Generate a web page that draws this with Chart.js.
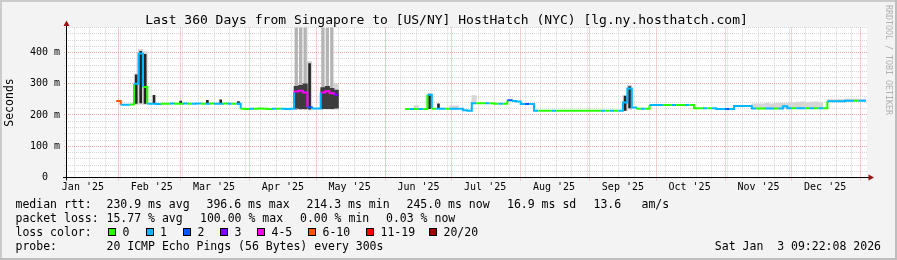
<!DOCTYPE html>
<html>
<head>
<meta charset="utf-8">
<script src="https://cdn.jsdelivr.net/npm/chart.js@4.4.1/dist/chart.umd.min.js"></script>
<style>
  html, body { margin: 0; padding: 0; background: #f3f3f3; }
  canvas { display: block; }
</style>
</head>
<body>
<canvas id="smokeping" width="897" height="260"></canvas>
<script>
// Time axis in days since 2025-01-01 (0 = Jan 1), one bucket = 2 days
const X_MIN = 7.39;
const X_MAX = 367.39;
const START_DAY = 8;
const STEP = 2;
const Y_MAX = 480;
const FIRST_SUNDAY = 4;

const TITLE = 'Last 360 Days from Singapore to [US/NY] HostHatch (NYC) [lg.ny.hosthatch.com]';

const yTicks = [0, 100, 200, 300, 400];
const monthStarts = [31, 59, 90, 120, 151, 181, 212, 243, 273, 304, 334, 365];
const monthMids = [15, 46, 74, 105, 135, 166, 196, 227, 258, 288, 319, 349];
const monthLabels = ["Jan '25", "Feb '25", "Mar '25", "Apr '25", "May '25", "Jun '25",
                     "Jul '25", "Aug '25", "Sep '25", "Oct '25", "Nov '25", "Dec '25"];

// median rtt per bucket (ms), null = no data
const median = [
  null, null, null, null, null, null, null, null, null, null,
  null, 245, 233, 233, 234, 300, 397, 290, 236, 236,
  235, 236, 236, 237, 236, 236, 237, 236, 236, 237,
  236, 236, 237, 236, 236, 237, 236, 236, 236, 220,
  219, 220, 220, 221, 220, 219, 220, 220, 220, 219,
  220, 275, 278, 272, 225, 221, 221, 272, 276, 270,
  265, null, null, null, null, null, null, null, null, null,
  null, null, null, null, null, null, 219, 219, 219, 219,
  219, 265, 220, 220, 220, 220, 220, 220, 220, 215,
  214, 238, 238, 238, 238, 238, 236, 236, 236, 247,
  245, 243, 235, 235, 235, 214, 214, 214, 214, 214,
  214, 214, 214, 214, 214, 214, 214, 214, 214, 214,
  214, 214, 214, 214, 214, 240, 285, 224, 220, 220,
  220, 232, 232, 232, 232, 232, 232, 232, 232, 232,
  232, 222, 222, 222, 222, 222, 219, 219, 219, 219,
  229, 229, 229, 229, 221, 221, 221, 221, 221, 221,
  221, 228, 222, 222, 222, 222, 222, 222, 222, 222,
  222, 244, 244, 244, 244, 246, 246, 246, 246, 246
];

// lost pings (of 20) per bucket
const loss = [
  0, 0, 0, 0, 0, 0, 0, 0, 0, 0,
  0, 7, 1, 1, 0, 1, 1, 0, 1, 1,
  1, 0, 0, 1, 0, 0, 1, 0, 1, 1,
  0, 1, 0, 1, 1, 0, 1, 0, 1, 0,
  0, 1, 0, 0, 0, 0, 1, 0, 1, 1,
  1, 5, 4, 5, 2, 1, 1, 5, 4, 5,
  3, 0, 0, 0, 0, 0, 0, 0, 0, 0,
  0, 0, 0, 0, 0, 0, 0, 1, 0, 1,
  0, 1, 0, 1, 1, 0, 1, 1, 1, 1,
  1, 1, 0, 0, 1, 0, 0, 1, 0, 2,
  1, 1, 1, 2, 1, 1, 0, 0, 0, 1,
  0, 0, 0, 0, 0, 0, 0, 0, 0, 0,
  1, 0, 1, 0, 1, 1, 1, 1, 0, 1,
  0, 1, 1, 1, 0, 0, 1, 0, 0, 1,
  0, 0, 0, 1, 0, 1, 1, 1, 2, 1,
  1, 1, 1, 1, 1, 0, 0, 1, 1, 0,
  1, 1, 1, 0, 1, 1, 0, 1, 0, 1,
  0, 1, 1, 1, 1, 1, 1, 0, 1, 1
];

// smoke (ping spread), only buckets where it shows
const paleIdx = [15, 16, 17, 54, 60, 78, 86, 87, 91, 125, 126,
                 154, 155, 156, 157, 158, 159, 160, 161, 162, 163, 164, 165, 166, 167, 168, 169,
                 171, 172, 173, 174, 175, 176, 177, 178, 179];
const paleLo = [233, 235, 234, 216, 218, 218, 219, 219, 237, 214, 218,
                220, 220, 220, 220, 220, 220, 220, 220, 220, 220, 220, 220, 220, 220, 220, 220,
                243, 243, 243, 243, 245, 245, 245, 245, 245];
const paleHi = [332, 410, 402, 372, 300, 230, 229, 229, 262, 262, 296,
                236, 236, 236, 237, 236, 238, 237, 238, 238, 240, 241, 242, 240, 241, 242, 240,
                250, 249, 250, 250, 252, 251, 252, 250, 251];

const midIdx = [17, 51, 52, 53, 57, 58, 59];
const midLo = [236, 216, 216, 216, 218, 218, 218];
const midHi = [345, 490, 490, 490, 490, 490, 490];

const bandIdx = [51, 52, 53, 57, 58, 59, 60];
const bandLo = [222, 220, 220, 220, 220, 220, 222];
const bandHi = [292, 295, 300, 288, 292, 285, 280];

const spikeIdx = [15, 16, 17, 19, 25, 31, 34, 38, 54, 81, 83, 125, 126];
const spikeLo = [236, 238, 236, 235, 235, 235, 235, 234, 218, 219, 220, 214, 222];
const spikeHi = [330, 405, 395, 264, 246, 248, 250, 244, 366, 268, 237, 262, 292];

const lossLabels = ['0', '1', '2', '3', '4-5', '6-10', '11-19', '20/20'];
const lossUpper = [0, 1, 2, 3, 5, 10, 19, 20];
const lossColors = ['#26ff00', '#00b8ff', '#0059ff', '#7e00ff', '#ff00ff', '#ff5500', '#ff0000', '#a10000'];

const MONO = '"DejaVu Sans Mono", monospace';

function lossColor(n) {
    for (let k = 0; k < lossUpper.length; k++) {
        if (n <= lossUpper[k]) return lossColors[k];
    }
    return lossColors[lossColors.length - 1];
}

// stepped median line, broken at the data gaps
const medianPoints = [];
median.forEach((v, i) => {
    const x = START_DAY + i * STEP;
    if (v === null) {
        if (medianPoints.length && medianPoints[medianPoints.length - 1].y !== null) {
            medianPoints.push({ x: x + 0.5, y: null });
        }
        return;
    }
    medianPoints.push({ x: x, y: v, loss: loss[i] });
    if (i === median.length - 1 || median[i + 1] === null) {
        medianPoints.push({ x: x + STEP, y: v, loss: loss[i] });
    }
});

function smokeDataset(idx, lo, hi, color, width) {
    return {
        type: 'bar',
        data: idx.map((b, k) => ({ x: START_DAY + b * STEP + STEP / 2, y: [lo[k], hi[k]] })),
        backgroundColor: color,
        borderWidth: 0,
        grouped: false,
        barPercentage: width,
        categoryPercentage: 1,
        clip: 0
    };
}

function hline(ctx, x1, x2, y) {
    ctx.beginPath(); ctx.moveTo(x1, y); ctx.lineTo(x2, y); ctx.stroke();
}
function vline(ctx, x, y1, y2) {
    ctx.beginPath(); ctx.moveTo(x, y1); ctx.lineTo(x, y2); ctx.stroke();
}

const rrdFrame = {
    id: 'rrdFrame',
    beforeDraw(chart) {
        const ctx = chart.ctx;
        const a = chart.chartArea;
        ctx.save();
        ctx.fillStyle = '#f3f3f3';
        ctx.fillRect(0, 0, chart.width, chart.height);
        ctx.fillStyle = '#cbcbcb';
        ctx.fillRect(0, 0, chart.width, 2);
        ctx.fillRect(0, 0, 2, chart.height);
        ctx.fillStyle = '#bdbdbd';
        ctx.fillRect(0, chart.height - 2, chart.width, 2);
        ctx.fillRect(chart.width - 2, 0, 2, chart.height);
        ctx.fillStyle = '#ffffff';
        ctx.fillRect(a.left, Math.floor(a.top), a.right - a.left + 1, Math.ceil(a.bottom - a.top));
        ctx.restore();
    },
    beforeDatasetsDraw(chart) {
        const ctx = chart.ctx;
        const a = chart.chartArea;
        const xs = chart.scales.x;
        const ys = chart.scales.y;
        ctx.save();
        ctx.lineWidth = 1;
        ctx.setLineDash([1, 1]);

        // minor grid
        ctx.strokeStyle = '#d6d6d6';
        for (let v = 20; v <= Y_MAX; v += 20) {
            if (v % 100 === 0) continue;
            hline(ctx, a.left - 2, a.right + 1, Math.floor(ys.getPixelForValue(v)) + 0.5);
        }
        for (let d = FIRST_SUNDAY; d < X_MAX; d += 7) {
            if (d <= X_MIN) continue;
            vline(ctx, Math.floor(xs.getPixelForValue(d)) + 0.5, a.top, a.bottom + 2);
        }

        // major grid
        ctx.strokeStyle = '#f0a4a4';
        yTicks.forEach(v => {
            if (v === 0) return;
            hline(ctx, a.left - 2, a.right + 1, Math.floor(ys.getPixelForValue(v)) + 0.5);
        });
        monthStarts.forEach(d => {
            if (d <= X_MIN || d >= X_MAX) return;
            vline(ctx, Math.floor(xs.getPixelForValue(d)) + 0.5, a.top, a.bottom + 3);
        });
        ctx.restore();
    },
    afterDatasetsDraw(chart) {
        const ctx = chart.ctx;
        const a = chart.chartArea;
        const ax = a.left + 0.5;
        const ay = a.bottom;
        ctx.save();
        ctx.lineWidth = 1;
        ctx.strokeStyle = '#000000';
        hline(ctx, a.left - 3, a.right + 3, ay);
        vline(ctx, ax, a.bottom + 3, a.top - 4);

        ctx.fillStyle = '#9b1212';
        ctx.beginPath();
        ctx.moveTo(ax, a.top - 7);
        ctx.lineTo(ax - 3, a.top - 1.5);
        ctx.lineTo(ax + 3, a.top - 1.5);
        ctx.closePath();
        ctx.fill();
        ctx.beginPath();
        ctx.moveTo(a.right + 8, ay);
        ctx.lineTo(a.right + 2.5, ay - 3);
        ctx.lineTo(a.right + 2.5, ay + 3);
        ctx.closePath();
        ctx.fill();
        ctx.restore();
    },
    afterDraw(chart) {
        const ctx = chart.ctx;
        ctx.save();
        ctx.fillStyle = '#000000';
        ctx.textBaseline = 'alphabetic';

        // title
        ctx.font = '13px ' + MONO;
        ctx.textAlign = 'center';
        ctx.fillText(TITLE, 446.5, 24);

        // vertical label
        ctx.font = '11.5px ' + MONO;
        ctx.save();
        ctx.translate(10, 102.5);
        ctx.rotate(-Math.PI / 2);
        ctx.textBaseline = 'middle';
        ctx.fillText('Seconds', 0, 0);
        ctx.restore();

        // legend
        ctx.textAlign = 'left';
        const rows = [
            [208, [[15.5, 'median rtt:'], [106.5, '230.9 ms avg'], [206.5, '396.6 ms max'],
                   [306.5, '214.3 ms min'], [406.5, '245.0 ms now'], [507, '16.9 ms sd'],
                   [593.5, '13.6'], [641.5, 'am/s']]],
            [222, [[15.5, 'packet loss:'], [106.5, '15.77 % avg'], [200, '100.00 % max'],
                   [300, '0.00 % min'], [386, '0.03 % now']]],
            [236, [[15.5, 'loss color:']]],
            [250, [[15.5, 'probe:'], [106.5, '20 ICMP Echo Pings (56 Bytes) every 300s']]]
        ];
        rows.forEach(([y, items]) => items.forEach(([x, t]) => ctx.fillText(t, x, y)));

        const swatchX = [123, 160.5, 198, 235, 272, 323, 381, 444];
        lossLabels.forEach((lab, k) => {
            const bx = Math.round(swatchX[k] - 15);
            ctx.fillStyle = lossColors[k];
            ctx.fillRect(bx, 228, 8, 8);
            ctx.strokeStyle = '#000000';
            ctx.lineWidth = 1;
            ctx.strokeRect(bx + 0.5, 228.5, 7, 7);
            ctx.fillStyle = '#000000';
            ctx.fillText(lab, swatchX[k] - 0.5, 236);
        });

        ctx.textAlign = 'right';
        ctx.fillText('Sat Jan  3 09:22:08 2026', 881, 250);

        // watermark
        ctx.font = '8.3px ' + MONO;
        ctx.fillStyle = '#b0b0b0';
        ctx.translate(888, 5);
        ctx.rotate(Math.PI / 2);
        ctx.textAlign = 'left';
        ctx.textBaseline = 'middle';
        ctx.fillText('RRDTOOL / TOBI OETIKER', 0, 0);
        ctx.restore();
    }
};

new Chart(document.getElementById('smokeping'), {
    type: 'line',
    data: {
        datasets: [
            {
                type: 'line',
                data: medianPoints,
                borderWidth: 2,
                borderColor: '#26ff00',
                pointRadius: 0,
                stepped: true,
                spanGaps: false,
                fill: false,
                segment: {
                    borderColor: c => lossColor(medianPoints[c.p0DataIndex].loss)
                }
            },
            smokeDataset(spikeIdx, spikeLo, spikeHi, '#262626', 0.6),
            smokeDataset(bandIdx, bandLo, bandHi, '#3d3d3d', 1),
            smokeDataset(midIdx, midLo, midHi, '#b4b4b4', 0.75),
            smokeDataset(paleIdx, paleLo, paleHi, '#d6d6d6', 1)
        ]
    },
    options: {
        responsive: false,
        animation: false,
        devicePixelRatio: 1,
        layout: { padding: { top: 27.5, right: 31, left: 0, bottom: 0 } },
        plugins: {
            legend: { display: false },
            tooltip: { enabled: false }
        },
        scales: {
            x: {
                type: 'linear',
                min: X_MIN,
                max: X_MAX,
                offset: false,
                grid: { display: false, drawTicks: false },
                border: { display: false },
                afterFit: s => { s.height = 82.5; },
                afterBuildTicks: s => { s.ticks = monthMids.map(v => ({ value: v })); },
                ticks: {
                    autoSkip: false,
                    maxRotation: 0,
                    padding: 4,
                    color: '#000000',
                    font: { family: MONO, size: 10 },
                    callback: v => monthLabels[monthMids.indexOf(v)]
                }
            },
            y: {
                type: 'linear',
                min: 0,
                max: Y_MAX,
                grid: { display: false, drawTicks: false },
                border: { display: false },
                afterFit: s => { s.width = 66; },
                afterBuildTicks: s => { s.ticks = yTicks.map(v => ({ value: v })); },
                ticks: {
                    padding: 6,
                    color: '#000000',
                    font: { family: MONO, size: 10 },
                    callback: v => (v === 0 ? '0  ' : v + ' m')
                }
            }
        }
    },
    plugins: [rrdFrame]
});
</script>
</body>
</html>
